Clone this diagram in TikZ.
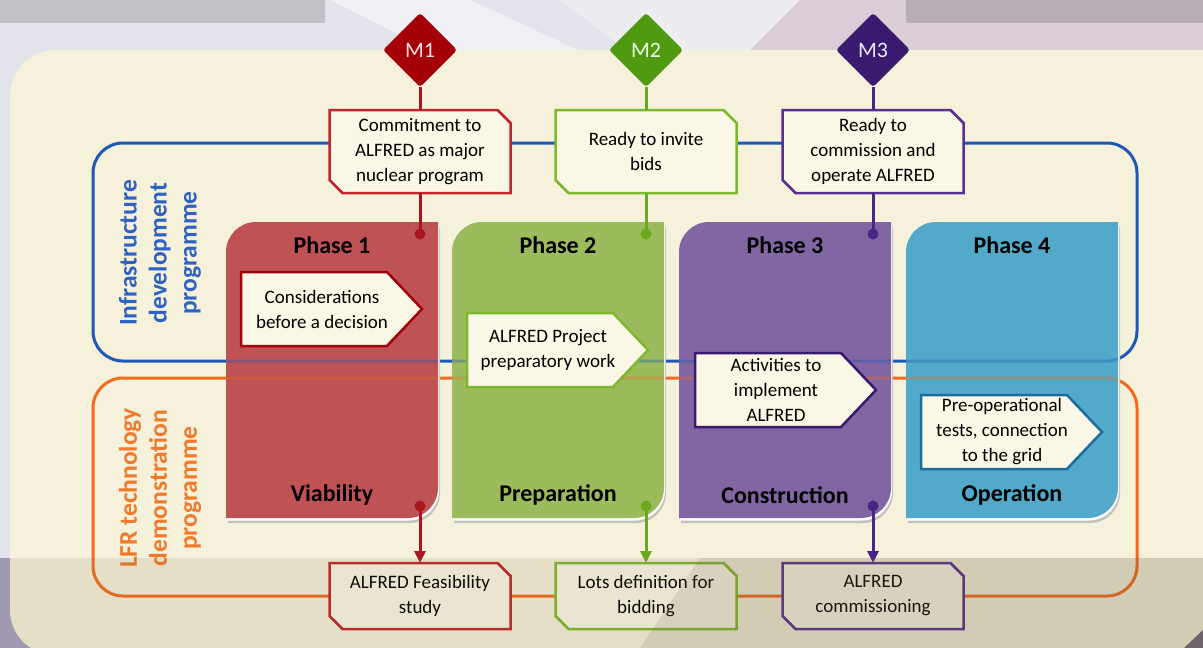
\documentclass[tikz,border=0pt]{standalone}
\usepackage{fontspec}
\setmainfont{Carlito}
\usetikzlibrary{shapes.geometric,arrows.meta,calc}

\definecolor{canvasgray}{HTML}{E3E3EB}
\definecolor{canvaspink}{HTML}{DBCDD7}
\definecolor{barleft}{HTML}{C1C1C5}
\definecolor{barright}{HTML}{B8AEB7}
\definecolor{bandleft}{HTML}{A199B2}
\definecolor{cream}{HTML}{F5F1DA}
\definecolor{boxcream}{HTML}{FAF7E6}
\definecolor{loopblue}{HTML}{1F57B5}
\definecolor{looporange}{HTML}{F26B1D}
\definecolor{textblue}{HTML}{2F63C2}
\definecolor{textorange}{HTML}{F07A2C}
\definecolor{phaseA}{HTML}{BE5254}
\definecolor{phaseB}{HTML}{9BBB5C}
\definecolor{phaseC}{HTML}{8166A3}
\definecolor{phaseD}{HTML}{52A9C9}
\definecolor{mileA}{HTML}{A30008}
\definecolor{mileB}{HTML}{4F9A10}
\definecolor{mileC}{HTML}{3A1A6E}
\definecolor{lineA}{HTML}{A8161E}
\definecolor{lineB}{HTML}{6BAA1F}
\definecolor{lineC}{HTML}{4A2585}
\definecolor{edgeA}{HTML}{C0262C}
\definecolor{edgeB}{HTML}{7DB92E}
\definecolor{edgeC}{HTML}{5B2E92}
\definecolor{edgeD}{HTML}{1D6D9C}
\definecolor{shadowgray}{HTML}{C4C2BC}
\definecolor{bandtone}{HTML}{786440}
\definecolor{bandtoneB}{HTML}{6A5A48}
\definecolor{cornerdark}{HTML}{6E6478}

\tikzset{
  boxshape/.style={minimum width=181pt, minimum height=83pt, inner sep=0pt, outer sep=0pt},
  lowshape/.style={minimum width=181pt, minimum height=66pt, inner sep=0pt, outer sep=0pt},
  boxtext/.style={align=center, font=\fontsize{19}{25}\selectfont, inner sep=0pt},
  phasetitle/.style={font=\bfseries\fontsize{24}{28}\selectfont},
  milestone/.style={diamond, minimum width=74pt, minimum height=74pt, inner sep=0pt,
    outer sep=0pt, rounded corners=3pt, font=\fontsize{22}{24}\selectfont},
  link/.style={line width=3pt},
  tipline/.style={line width=3pt, -{Triangle[length=12pt,width=11pt]}},
  outline/.style={line width=2.5pt, line join=miter},
  sidelabel/.style={rotate=90, align=center, font=\bfseries\fontsize{25.5}{30}\selectfont},
  loopline/.style={line width=3pt, rounded corners=30pt},
}

% box with the top-right and bottom-left corners cut off
\newcommand\snipbox[2]{%
  \draw[outline, draw=#2, fill=boxcream] (#1.north west) -- ($(#1.north east)+(-13,0)$)
    -- ($(#1.north east)+(0,13)$) -- (#1.south east) -- ($(#1.south west)+(13,0)$)
    -- ($(#1.south west)+(0,-13)$) -- cycle;}

% arrow-shaped label inside a phase: left, top, edge colour, name, text
\newcommand\signalbox[5]{%
  \draw[outline, draw=#3, fill=boxcream] (#1,#2) -- ++(146,0) -- ++(35,37) -- ++(-35,37)
    -- ++(-146,0) -- cycle;
  \node[boxtext] (#4) at (#1+81,#2+37) {#5};}

% phase panel: left edge, fill options, shift
\newcommand\phaseshape[3]{%
  \fill[#2, shift={(#3)}] (#1,518) -- (#1,252) arc[start angle=180,end angle=90,radius=30pt]
    -- (#1+212,222) -- (#1+212,488) arc[start angle=0,end angle=-90,radius=30pt] -- cycle;}

\newcommand\phasepanel[2]{%
  \phaseshape{#1}{shadowgray}{2,5}
  \phaseshape{#1}{white}{1,2.5}
  \phaseshape{#1}{#2}{0,0}}

\begin{document}
\begin{tikzpicture}[x=1pt,y=-1pt]
\useasboundingbox (0,0) rectangle (1203,648);
\clip (0,0) rectangle (1203,648);

% ---- backdrop ----
\fill[canvasgray] (0,0) rectangle (1203,648);
\fill[canvaspink] (800,0) -- (1203,0) -- (1203,60) -- (740,60) -- cycle;
\fill[white, opacity=.45] (330,0) -- (470,0) -- (600,60) -- (450,60) -- cycle;
\fill[white, opacity=.35] (560,0) -- (800,0) -- (740,60) -- (640,60) -- cycle;
\fill[barleft] (0,0) rectangle (325,23);
\fill[barright] (906,0) rectangle (1203,23);
\fill[bandleft] (0,558) rectangle (1203,648);
\fill[cream, rounded corners=45pt] (10,50) rectangle (1250,655);
\fill[cornerdark] (1203,630) -- (1203,648) -- (1184,648) -- cycle;

% ---- programme loops ----
\draw[loopline, loopblue] (93,143) rectangle (1137,361);
\draw[loopline, looporange] (93,378) rectangle (1137,596);

% ---- phase panels ----
\phasepanel{226}{phaseA}
\phasepanel{452}{phaseB}
\phasepanel{679}{phaseC}
\phasepanel{906}{phaseD}

% loops faintly visible through the panels
\begin{scope}
  \clip (226,222) rectangle (438,518) (452,222) rectangle (664,518)
        (679,222) rectangle (891,518) (906,222) rectangle (1118,518);
  \draw[loopline, loopblue, opacity=.35] (93,143) rectangle (1137,361);
  \draw[loopline, looporange, opacity=.35] (93,378) rectangle (1137,596);
\end{scope}

\node[phasetitle] (p1) at (332,245) {Phase 1};
\node[phasetitle] (p2) at (558,245) {Phase 2};
\node[phasetitle] (p3) at (785,245) {Phase 3};
\node[phasetitle] (p4) at (1012,245) {Phase 4};
\node[phasetitle] (s1) at (332,495) {Viability};
\node[phasetitle] (s2) at (558,495) {Preparation};
\node[phasetitle] (s3) at (785,495) {Construction};
\node[phasetitle] (s4) at (1012,495) {Operation};

\signalbox{241}{272}{mileA}{a1}{Considerations\\before a decision}
\signalbox{467}{313}{edgeB}{a2}{ALFRED Project\\preparatory work}
\signalbox{695}{353}{mileC}{a3}{Activities to\\implement\\ALFRED}
\signalbox{921}{395}{edgeD}{a4}{Pre-operational\\tests, connection\\to the grid}

% ---- side labels ----
\node[sidelabel, textblue] (infra) at (160,253) {Infrastructure\\development\\programme};
\node[sidelabel, textorange] (lfr) at (160,488) {LFR technology\\demonstration\\programme};

% ---- milestones ----
\node[milestone, fill=mileA, text=red!10] (m1) at (420,50) {M1};
\node[milestone, fill=mileB, text=green!8] (m2) at (646,50) {M2};
\node[milestone, fill=mileC, text=blue!8] (m3) at (873,50) {M3};

\node[boxshape] (t1) at (420,151.5) {};
\node[boxshape] (t2) at (646,151.5) {};
\node[boxshape] (t3) at (873,151.5) {};
\snipbox{t1}{edgeA}
\snipbox{t2}{edgeB}
\snipbox{t3}{edgeC}
\node[boxtext] (t1x) at (t1) {Commitment to\\ALFRED as major\\nuclear program};
\node[boxtext] (t2x) at (t2) {Ready to invite\\bids};
\node[boxtext] (t3x) at (t3) {Ready to\\commission and\\operate ALFRED};

\node[lowshape] (b1) at (420,596) {};
\node[lowshape] (b2) at (646,596) {};
\node[lowshape] (b3) at (873,596) {};
\snipbox{b1}{edgeA}
\snipbox{b2}{edgeB}
\snipbox{b3}{edgeC}
\node[boxtext] (b1x) at (b1) {ALFRED Feasibility\\study};
\node[boxtext] (b2x) at (b2) {Lots definition for\\bidding};
\node[boxtext] (b3x) at (b3) {ALFRED\\commissioning};

\coordinate (d1u) at (420,234);
\coordinate (d2u) at (646,234);
\coordinate (d3u) at (873,234);
\coordinate (d1l) at (420,506);
\coordinate (d2l) at (646,506);
\coordinate (d3l) at (873,506);

\draw[link, lineA] (m1.south) -- (t1.north);
\draw[link, lineB] (m2.south) -- (t2.north);
\draw[link, lineC] (m3.south) -- (t3.north);
\draw[link, lineA] (t1.south) -- (d1u);
\draw[link, lineB] (t2.south) -- (d2u);
\draw[link, lineC] (t3.south) -- (d3u);
\fill[lineA] (d1u) circle (5.5pt) (d1l) circle (5.5pt);
\fill[lineB] (d2u) circle (5.5pt) (d2l) circle (5.5pt);
\fill[lineC] (d3u) circle (5.5pt) (d3l) circle (5.5pt);
\draw[tipline, lineA] (d1l) -- (b1.north);
\draw[tipline, lineB] (d2l) -- (b2.north);
\draw[tipline, lineC] (d3l) -- (b3.north);

% ---- darker lower band ----
\begin{scope}
  \clip[rounded corners=45pt] (10,50) rectangle (1250,655);
  \fill[bandtone, opacity=.12] (0,558) rectangle (1203,648);
  \fill[bandtoneB, opacity=.14] (700,558) -- (1203,558) -- (1203,648) -- (640,648) -- cycle;
\end{scope}
\end{tikzpicture}
\end{document}
